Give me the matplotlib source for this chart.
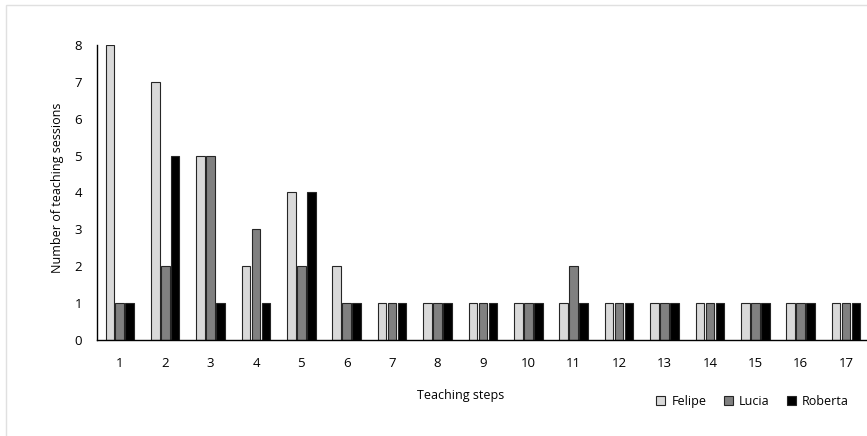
import numpy as np
import matplotlib
matplotlib.use("Agg")
import matplotlib.pyplot as plt
from matplotlib.patches import Rectangle

plt.rcParams.update({"font.family": ["Open Sans", "DejaVu Sans"]})

steps = [str(i) for i in range(1, 18)]
felipe = [8, 7, 5, 2, 4, 2, 1, 1, 1, 1, 1, 1, 1, 1, 1, 1, 1]
lucia = [1, 2, 5, 3, 2, 1, 1, 1, 1, 1, 2, 1, 1, 1, 1, 1, 1]
roberta = [1, 5, 1, 1, 4, 1, 1, 1, 1, 1, 1, 1, 1, 1, 1, 1, 1]
series = [("Felipe", felipe, "#d9d9d9"), ("Lucia", lucia, "#808080"), ("Roberta", roberta, "#000000")]

fig = plt.figure(figsize=(8.67, 4.36), dpi=100)
ax = fig.add_axes([0.112, 0.220, 0.890, 0.677])

x = np.arange(len(steps))
off, w = 0.22, 0.19
for i, (name, vals, col) in enumerate(series):
    ax.bar(x + (i - 1) * off, vals, width=w, color=col, edgecolor="#262626",
           linewidth=0.8, label=name, zorder=2)

ax.set_xlim(-0.5, len(steps) - 0.5)
ax.set_ylim(0, 8)
ax.set_xticks(x)
ax.set_xticklabels(steps)
ax.set_yticks(range(0, 9))
ax.tick_params(axis="both", length=0, labelsize=9.5)
ax.tick_params(axis="y", pad=11)
ax.tick_params(axis="x", pad=12)
for s in ("top", "right"):
    ax.spines[s].set_visible(False)
ax.spines["left"].set_linewidth(1.0)
ax.spines["bottom"].set_linewidth(1.0)

fig.text(0.066, 0.57, "Number of teaching sessions", rotation=90, fontsize=9,
         ha="center", va="center")
fig.text(0.531, 0.092, "Teaching steps", fontsize=9, ha="center", va="center")

fig.legend(loc="center right", bbox_to_anchor=(0.992, 0.08), ncol=3, frameon=False,
           fontsize=9, handlelength=0.7, handleheight=0.7, handletextpad=0.5,
           columnspacing=1.4)

# light frame at top/left edge
fig.patches.append(Rectangle((0.007, -0.1), 1.1, 0.1 + 0.988, transform=fig.transFigure,
                             fill=False, edgecolor="#e0e0e0", linewidth=1.0))

fig.savefig("out.png", dpi=100)
